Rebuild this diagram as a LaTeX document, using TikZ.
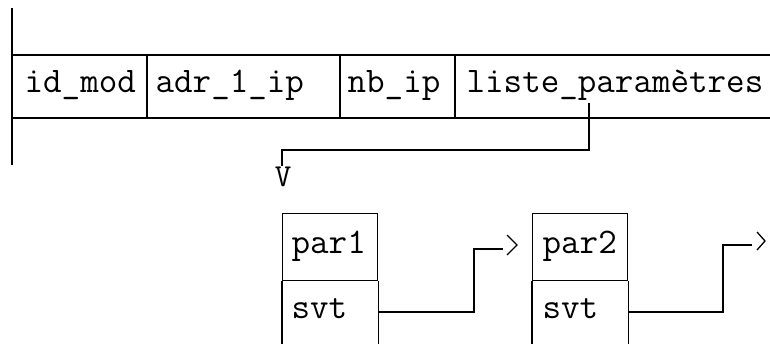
\documentclass[tikz,border=0pt]{standalone}
\usepackage{fontspec}
\begin{document}
\begin{tikzpicture}[x=1pt,y=-1pt,line width=1.3pt,
  lbl/.style={font=\ttfamily\fontsize{36}{36}\selectfont, inner sep=0pt, anchor=base west},
  cellbox/.style={draw, anchor=north west, minimum width=95pt, minimum height=67pt, inner sep=0pt},
  link/.style={line width=1.3pt},
  chev/.style={line width=1.3pt, line join=miter}]
\useasboundingbox (0,0) rectangle (770,344);

% record: left edge, top and bottom rules, field separators
\draw (12,8) -- (12,165);
\draw (12,55) -- (770,55);
\draw (12,118) -- (770,118);
\draw (147,55) -- (147,118);
\draw (340,55) -- (340,118);
\draw (455,55) -- (455,118);

\node[lbl] (idmod) at (24,93) {id\_mod};
\node[lbl] (adr) at (155,93) {adr\_1\_ip};
\node[lbl] (nbip) at (347,93) {nb\_ip};
\node[lbl] (liste) at (466,93) {liste\_paramètres};

% list elements
\node[cellbox] (p1) at (282,213) {};
\node[cellbox] (p2) at (532,213) {};
\draw (p1.south west) -- ++(0,64);
\draw (p1.south east) -- ++(0,64);
\draw (p2.south west) -- ++(0,64);
\draw (p2.south east) -- ++(0,64);

\node[lbl] (par1) at (291,254) {par1};
\node[lbl] (svt1) at (291,318) {svt};
\node[lbl] (par2) at (542,254) {par2};
\node[lbl] (svt2) at (542,318) {svt};

% pointer from liste_paramètres to the first element
\coordinate (lp) at (589,103);
\node[font=\ttfamily\fontsize{32}{32}\selectfont, inner sep=0pt, anchor=north] (vhead) at (283,166) {V};
\draw[link] (lp) -- ++(0,47) -| ([xshift=-1pt]vhead.north);

% successor pointers
\coordinate (s1) at (p1.east |- 0,312);
\coordinate (t1) at (503,249);
\draw[link] (s1) -- (474,312) |- (t1);
\draw[chev] (507,235) -- (517,245) -- (507,255);

\coordinate (s2) at (p2.east |- 0,312);
\coordinate (t2) at (752,245);
\draw[link] (s2) -- (723,312) |- (t2);
\draw[chev] (757,232) -- (765,241) -- (757,250);
\end{tikzpicture}
\end{document}
